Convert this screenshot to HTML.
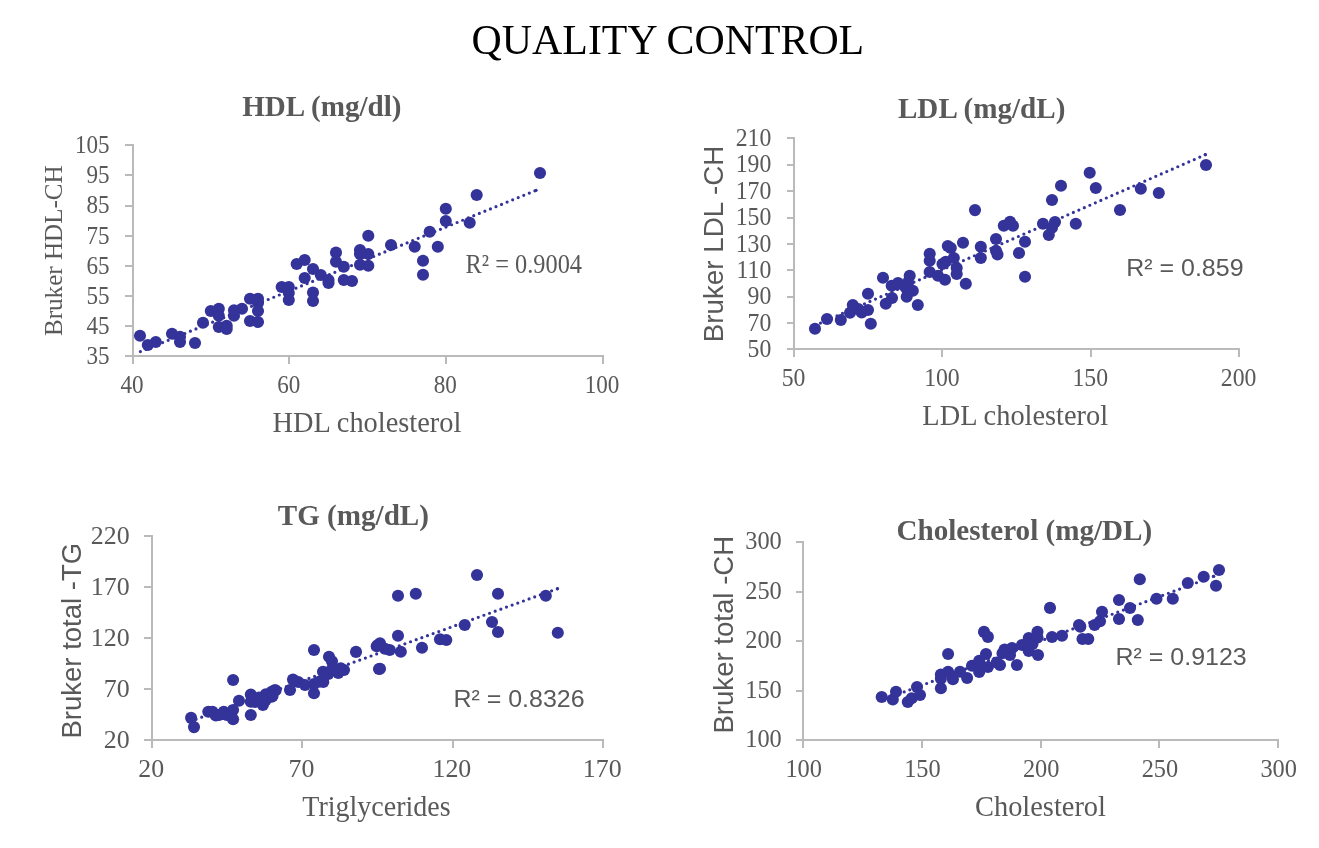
<!DOCTYPE html>
<html><head><meta charset="utf-8"><title>Quality Control</title>
<style>
html,body{margin:0;padding:0;background:#fff;}
body{width:1319px;height:848px;overflow:hidden;}
svg{display:block;will-change:transform}
text{fill:#595959}
.se{font-family:"Liberation Serif",serif;}
.sa{font-family:"Liberation Sans",sans-serif;}
</style></head><body>
<svg width="1319" height="848" viewBox="0 0 1319 848">
<rect width="1319" height="848" fill="#fff"/>
<text class="se" transform="translate(667.9 54) scale(0.9853 1)" font-size="42.5" text-anchor="middle" style="fill:#000">QUALITY CONTROL</text>
<path d="M133 144V357M132 356H604M125 145H133M125 175H133M125 206H133M125 236H133M125 266H133M125 296H133M125 326H133M125 356H133M133 356V364M289 356V364M446 356V364M603 356V364" fill="none" stroke="#bababa" stroke-width="2"/>
<path d="M140.4 351.6L536.1 190.3" stroke="#333399" stroke-width="3.2" stroke-linecap="round" stroke-dasharray="0 6" fill="none"/>
<circle cx="536.1" cy="190.3" r="1.6" fill="#333399"/>
<g fill="#333399"><circle cx="140" cy="335.8" r="6.05"/><circle cx="147.8" cy="345" r="6.05"/><circle cx="155.8" cy="342" r="6.05"/><circle cx="172" cy="333.7" r="6.05"/><circle cx="180" cy="336.7" r="6.05"/><circle cx="180" cy="342" r="6.05"/><circle cx="195" cy="343" r="6.05"/><circle cx="203" cy="322.7" r="6.05"/><circle cx="210.8" cy="311" r="6.05"/><circle cx="218.8" cy="308.7" r="6.05"/><circle cx="218.8" cy="315.8" r="6.05"/><circle cx="218.8" cy="327" r="6.05"/><circle cx="226.7" cy="325.8" r="6.05"/><circle cx="226.7" cy="329" r="6.05"/><circle cx="234" cy="310.3" r="6.05"/><circle cx="234" cy="315.8" r="6.05"/><circle cx="242" cy="308.7" r="6.05"/><circle cx="250" cy="298.8" r="6.05"/><circle cx="250" cy="321" r="6.05"/><circle cx="258" cy="298.8" r="6.05"/><circle cx="258" cy="303" r="6.05"/><circle cx="258" cy="311" r="6.05"/><circle cx="258" cy="322" r="6.05"/><circle cx="281.7" cy="287" r="6.05"/><circle cx="288.8" cy="287" r="6.05"/><circle cx="288.8" cy="293" r="6.05"/><circle cx="288.8" cy="300" r="6.05"/><circle cx="296.7" cy="264" r="6.05"/><circle cx="304.7" cy="260" r="6.05"/><circle cx="304.7" cy="278" r="6.05"/><circle cx="313" cy="269" r="6.05"/><circle cx="313" cy="292.5" r="6.05"/><circle cx="313" cy="301" r="6.05"/><circle cx="320.8" cy="275" r="6.05"/><circle cx="328.5" cy="280" r="6.05"/><circle cx="328.5" cy="283" r="6.05"/><circle cx="336" cy="252.5" r="6.05"/><circle cx="336" cy="261.7" r="6.05"/><circle cx="343.8" cy="266.7" r="6.05"/><circle cx="343.8" cy="280" r="6.05"/><circle cx="352" cy="281" r="6.05"/><circle cx="360" cy="250" r="6.05"/><circle cx="360" cy="254" r="6.05"/><circle cx="360" cy="264.7" r="6.05"/><circle cx="368.3" cy="235.8" r="6.05"/><circle cx="368.3" cy="254" r="6.05"/><circle cx="368.3" cy="265.8" r="6.05"/><circle cx="391" cy="245" r="6.05"/><circle cx="414.7" cy="246.7" r="6.05"/><circle cx="423" cy="260.8" r="6.05"/><circle cx="423" cy="274.7" r="6.05"/><circle cx="429.7" cy="231.7" r="6.05"/><circle cx="437.8" cy="246.7" r="6.05"/><circle cx="445.8" cy="208.8" r="6.05"/><circle cx="445.8" cy="221" r="6.05"/><circle cx="469.7" cy="222.8" r="6.05"/><circle cx="476.7" cy="195" r="6.05"/><circle cx="540.0" cy="173.0" r="6.05"/></g>
<text class="se" transform="translate(321.85 116) scale(1.022 1)" font-size="28.5" text-anchor="middle" font-weight="bold">HDL (mg/dl)</text>
<text class="se" transform="translate(109.6 153.1) scale(0.91 1)" font-size="25.4" text-anchor="end">105</text>
<text class="se" transform="translate(109.6 183.24285714285713) scale(0.91 1)" font-size="25.4" text-anchor="end">95</text>
<text class="se" transform="translate(109.6 213.38571428571427) scale(0.91 1)" font-size="25.4" text-anchor="end">85</text>
<text class="se" transform="translate(109.6 243.52857142857144) scale(0.91 1)" font-size="25.4" text-anchor="end">75</text>
<text class="se" transform="translate(109.6 273.6714285714286) scale(0.91 1)" font-size="25.4" text-anchor="end">65</text>
<text class="se" transform="translate(109.6 303.81428571428575) scale(0.91 1)" font-size="25.4" text-anchor="end">55</text>
<text class="se" transform="translate(109.6 333.9571428571429) scale(0.91 1)" font-size="25.4" text-anchor="end">45</text>
<text class="se" transform="translate(109.6 364.1) scale(0.91 1)" font-size="25.4" text-anchor="end">35</text>
<text class="se" transform="translate(132.0 393.2) scale(0.91 1)" font-size="25.4" text-anchor="middle">40</text>
<text class="se" transform="translate(288.66666666666663 393.2) scale(0.91 1)" font-size="25.4" text-anchor="middle">60</text>
<text class="se" transform="translate(445.3333333333333 393.2) scale(0.91 1)" font-size="25.4" text-anchor="middle">80</text>
<text class="se" transform="translate(602.0 393.2) scale(0.91 1)" font-size="25.4" text-anchor="middle">100</text>
<text class="se" transform="translate(366.9 431.7)" font-size="28.4" text-anchor="middle">HDL cholesterol</text>
<text class="se" transform="translate(62 250.65) rotate(-90)" font-size="25.1" text-anchor="middle">Bruker HDL-CH</text>
<text class="se" transform="translate(465.6 273.2) scale(0.923 1)" font-size="26.4" text-anchor="start">R² = 0.9004</text>
<path d="M794 137V350M793 349H1240M787 138H794M787 165H794M787 191H794M787 218H794M787 244H794M787 270H794M787 297H794M787 323H794M787 349H794M794 349V357M942 349V357M1091 349V357M1239 349V357" fill="none" stroke="#bababa" stroke-width="2"/>
<path d="M815 325.5L1205.3 154.7" stroke="#333399" stroke-width="3.2" stroke-linecap="round" stroke-dasharray="0 6" fill="none"/>
<circle cx="1205.3" cy="154.7" r="1.6" fill="#333399"/>
<g fill="#333399"><circle cx="815" cy="328.8" r="6.05"/><circle cx="827" cy="319" r="6.05"/><circle cx="840.8" cy="320" r="6.05"/><circle cx="850" cy="312.8" r="6.05"/><circle cx="852.8" cy="305" r="6.05"/><circle cx="858.3" cy="309" r="6.05"/><circle cx="861.7" cy="312.5" r="6.05"/><circle cx="868" cy="310" r="6.05"/><circle cx="870.8" cy="323.8" r="6.05"/><circle cx="868" cy="293.7" r="6.05"/><circle cx="883" cy="277.8" r="6.05"/><circle cx="885.8" cy="303.8" r="6.05"/><circle cx="892" cy="298" r="6.05"/><circle cx="891.7" cy="285.8" r="6.05"/><circle cx="898" cy="283" r="6.05"/><circle cx="904" cy="285.8" r="6.05"/><circle cx="906.7" cy="289" r="6.05"/><circle cx="906.7" cy="296.7" r="6.05"/><circle cx="912.8" cy="290.8" r="6.05"/><circle cx="909.7" cy="275.8" r="6.05"/><circle cx="908" cy="282.5" r="6.05"/><circle cx="917.8" cy="305" r="6.05"/><circle cx="929.7" cy="253.8" r="6.05"/><circle cx="929.7" cy="260.8" r="6.05"/><circle cx="929.7" cy="272" r="6.05"/><circle cx="938" cy="275.8" r="6.05"/><circle cx="945" cy="279.7" r="6.05"/><circle cx="942.5" cy="264" r="6.05"/><circle cx="945.8" cy="261.7" r="6.05"/><circle cx="947.8" cy="246" r="6.05"/><circle cx="950.8" cy="248" r="6.05"/><circle cx="953.8" cy="258" r="6.05"/><circle cx="956.7" cy="268" r="6.05"/><circle cx="956.7" cy="274" r="6.05"/><circle cx="963" cy="242.8" r="6.05"/><circle cx="965.8" cy="283.8" r="6.05"/><circle cx="980.8" cy="246.7" r="6.05"/><circle cx="980.8" cy="258" r="6.05"/><circle cx="996" cy="239" r="6.05"/><circle cx="996" cy="250.8" r="6.05"/><circle cx="997.5" cy="254.5" r="6.05"/><circle cx="975" cy="210.1" r="6.05"/><circle cx="1003.8" cy="225.8" r="6.05"/><circle cx="1010" cy="221.7" r="6.05"/><circle cx="1013" cy="225.8" r="6.05"/><circle cx="1025" cy="241.7" r="6.05"/><circle cx="1019" cy="253" r="6.05"/><circle cx="1025" cy="276.7" r="6.05"/><circle cx="1043" cy="223.8" r="6.05"/><circle cx="1055" cy="222" r="6.05"/><circle cx="1052" cy="227.8" r="6.05"/><circle cx="1048.8" cy="235" r="6.05"/><circle cx="1052" cy="200" r="6.05"/><circle cx="1061" cy="185.8" r="6.05"/><circle cx="1075.8" cy="223.8" r="6.05"/><circle cx="1089.7" cy="172.8" r="6.05"/><circle cx="1095.8" cy="188" r="6.05"/><circle cx="1120" cy="210" r="6.05"/><circle cx="1140.8" cy="188.8" r="6.05"/><circle cx="1158.8" cy="193" r="6.05"/><circle cx="1206" cy="165" r="6.05"/></g>
<text class="se" transform="translate(981.65 117.5) scale(1.022 1)" font-size="28.5" text-anchor="middle" font-weight="bold">LDL (mg/dL)</text>
<text class="se" transform="translate(771.3 146.1) scale(0.935 1)" font-size="25.4" text-anchor="end">210</text>
<text class="se" transform="translate(771.3 172.475) scale(0.935 1)" font-size="25.4" text-anchor="end">190</text>
<text class="se" transform="translate(771.3 198.85) scale(0.935 1)" font-size="25.4" text-anchor="end">170</text>
<text class="se" transform="translate(771.3 225.225) scale(0.935 1)" font-size="25.4" text-anchor="end">150</text>
<text class="se" transform="translate(771.3 251.6) scale(0.935 1)" font-size="25.4" text-anchor="end">130</text>
<text class="se" transform="translate(771.3 277.975) scale(0.935 1)" font-size="25.4" text-anchor="end">110</text>
<text class="se" transform="translate(771.3 304.35) scale(0.935 1)" font-size="25.4" text-anchor="end">90</text>
<text class="se" transform="translate(771.3 330.725) scale(0.935 1)" font-size="25.4" text-anchor="end">70</text>
<text class="se" transform="translate(771.3 357.1) scale(0.935 1)" font-size="25.4" text-anchor="end">50</text>
<text class="se" transform="translate(793.6 386.0) scale(0.935 1)" font-size="25.4" text-anchor="middle">50</text>
<text class="se" transform="translate(941.9333333333334 386.0) scale(0.935 1)" font-size="25.4" text-anchor="middle">100</text>
<text class="se" transform="translate(1090.2666666666667 386.0) scale(0.935 1)" font-size="25.4" text-anchor="middle">150</text>
<text class="se" transform="translate(1238.6 386.0) scale(0.935 1)" font-size="25.4" text-anchor="middle">200</text>
<text class="se" transform="translate(1015.25 425)" font-size="28.4" text-anchor="middle">LDL cholesterol</text>
<text class="sa" transform="translate(722.5 244.0) rotate(-90)" font-size="27.8" text-anchor="middle">Bruker LDL -CH</text>
<text class="sa" transform="translate(1126.2 275.9) scale(1.02 1)" font-size="24.5" text-anchor="start">R² = 0.859</text>
<path d="M152 535V741M151 740H604M144 536H152M144 587H152M144 638H152M144 689H152M144 740H152M152 740V748M302 740V748M453 740V748M603 740V748" fill="none" stroke="#bababa" stroke-width="2"/>
<path d="M190.44 721.2L557.5 588.7" stroke="#333399" stroke-width="3.2" stroke-linecap="round" stroke-dasharray="0 6" fill="none"/>
<circle cx="557.5" cy="588.7" r="1.6" fill="#333399"/>
<g fill="#333399"><circle cx="191.1" cy="717.9" r="6.05"/><circle cx="194" cy="727.1" r="6.05"/><circle cx="233.1" cy="680" r="6.05"/><circle cx="208.3" cy="711.7" r="6.05"/><circle cx="212.5" cy="711.7" r="6.05"/><circle cx="215.8" cy="715.4" r="6.05"/><circle cx="219" cy="715" r="6.05"/><circle cx="223.75" cy="711.7" r="6.05"/><circle cx="226.7" cy="715" r="6.05"/><circle cx="233.1" cy="710" r="6.05"/><circle cx="233.1" cy="719.2" r="6.05"/><circle cx="239" cy="700.8" r="6.05"/><circle cx="250.8" cy="715" r="6.05"/><circle cx="250.8" cy="694.6" r="6.05"/><circle cx="250.8" cy="701.7" r="6.05"/><circle cx="255" cy="702" r="6.05"/><circle cx="259" cy="697.5" r="6.05"/><circle cx="262.9" cy="705" r="6.05"/><circle cx="265.8" cy="694.2" r="6.05"/><circle cx="265.8" cy="700" r="6.05"/><circle cx="271.7" cy="696.7" r="6.05"/><circle cx="271.7" cy="691.7" r="6.05"/><circle cx="274.5" cy="690.4" r="6.05"/><circle cx="275.6" cy="690.2" r="6.05"/><circle cx="272.5" cy="696" r="6.05"/><circle cx="290" cy="690" r="6.05"/><circle cx="293" cy="679.6" r="6.05"/><circle cx="298.3" cy="682" r="6.05"/><circle cx="305" cy="685" r="6.05"/><circle cx="314" cy="693.3" r="6.05"/><circle cx="314" cy="684" r="6.05"/><circle cx="319" cy="681.7" r="6.05"/><circle cx="323.3" cy="682" r="6.05"/><circle cx="323" cy="671.7" r="6.05"/><circle cx="328.3" cy="674" r="6.05"/><circle cx="332" cy="669" r="6.05"/><circle cx="338.3" cy="673" r="6.05"/><circle cx="344" cy="670" r="6.05"/><circle cx="340.8" cy="668.3" r="6.05"/><circle cx="314" cy="650" r="6.05"/><circle cx="329" cy="656.8" r="6.05"/><circle cx="332" cy="661.3" r="6.05"/><circle cx="356" cy="651.9" r="6.05"/><circle cx="377.5" cy="645.4" r="6.05"/><circle cx="379" cy="669" r="6.05"/><circle cx="477" cy="575" r="6.05"/><circle cx="398" cy="595.8" r="6.05"/><circle cx="415.8" cy="593.8" r="6.05"/><circle cx="498" cy="593.8" r="6.05"/><circle cx="545.8" cy="595.8" r="6.05"/><circle cx="557.8" cy="632.8" r="6.05"/><circle cx="492" cy="622" r="6.05"/><circle cx="498" cy="632" r="6.05"/><circle cx="464.7" cy="625" r="6.05"/><circle cx="440" cy="639.2" r="6.05"/><circle cx="446.3" cy="640" r="6.05"/><circle cx="422" cy="647.8" r="6.05"/><circle cx="398" cy="635.8" r="6.05"/><circle cx="400.8" cy="651.7" r="6.05"/><circle cx="380" cy="643.3" r="6.05"/><circle cx="376.7" cy="646.2" r="6.05"/><circle cx="385" cy="648.7" r="6.05"/><circle cx="389.7" cy="650" r="6.05"/><circle cx="380" cy="668.7" r="6.05"/></g>
<text class="se" transform="translate(353.35 525) scale(1.022 1)" font-size="28.5" text-anchor="middle" font-weight="bold">TG (mg/dL)</text>
<text class="se" transform="translate(129.7 544.1) scale(1.02 1)" font-size="25.4" text-anchor="end">220</text>
<text class="se" transform="translate(129.7 595.1) scale(1.02 1)" font-size="25.4" text-anchor="end">170</text>
<text class="se" transform="translate(129.7 646.1) scale(1.02 1)" font-size="25.4" text-anchor="end">120</text>
<text class="se" transform="translate(129.7 697.1) scale(1.02 1)" font-size="25.4" text-anchor="end">70</text>
<text class="se" transform="translate(129.7 748.1) scale(1.02 1)" font-size="25.4" text-anchor="end">20</text>
<text class="se" transform="translate(151.2 777.0) scale(1.02 1)" font-size="25.4" text-anchor="middle">20</text>
<text class="se" transform="translate(301.53333333333336 777.0) scale(1.02 1)" font-size="25.4" text-anchor="middle">70</text>
<text class="se" transform="translate(451.8666666666667 777.0) scale(1.02 1)" font-size="25.4" text-anchor="middle">120</text>
<text class="se" transform="translate(602.2 777.0) scale(1.02 1)" font-size="25.4" text-anchor="middle">170</text>
<text class="se" transform="translate(376.5 815.8) scale(0.987 1)" font-size="28.4" text-anchor="middle">Triglycerides</text>
<text class="sa" transform="translate(80.7 640.7) rotate(-90)" font-size="27.5" text-anchor="middle">Bruker total -TG</text>
<text class="sa" transform="translate(453.4 706.85) scale(1.02 1)" font-size="24.5" text-anchor="start">R² = 0.8326</text>
<path d="M803 541V741M802 740H1279M796 542H803M796 592H803M796 641H803M796 691H803M796 740H803M803 740V748M922 740V748M1041 740V748M1159 740V748M1278 740V748" fill="none" stroke="#bababa" stroke-width="2"/>
<path d="M881.7 700.3L1213.7 576.3" stroke="#333399" stroke-width="3.2" stroke-linecap="round" stroke-dasharray="0 6" fill="none"/>
<circle cx="1213.7" cy="576.3" r="1.6" fill="#333399"/>
<g fill="#333399"><circle cx="881.7" cy="697" r="6.05"/><circle cx="892.8" cy="699.5" r="6.05"/><circle cx="896" cy="691.7" r="6.05"/><circle cx="907.8" cy="702" r="6.05"/><circle cx="911.7" cy="698.3" r="6.05"/><circle cx="917" cy="687" r="6.05"/><circle cx="920" cy="695" r="6.05"/><circle cx="940.9" cy="674.6" r="6.05"/><circle cx="940.9" cy="678.6" r="6.05"/><circle cx="940.9" cy="688.3" r="6.05"/><circle cx="948.1" cy="654" r="6.05"/><circle cx="948.1" cy="671.7" r="6.05"/><circle cx="952.9" cy="679.2" r="6.05"/><circle cx="960" cy="671.7" r="6.05"/><circle cx="967.1" cy="678" r="6.05"/><circle cx="972" cy="665.8" r="6.05"/><circle cx="979.2" cy="660.8" r="6.05"/><circle cx="979.2" cy="672" r="6.05"/><circle cx="980.8" cy="666.7" r="6.05"/><circle cx="984" cy="631.9" r="6.05"/><circle cx="987.9" cy="636.9" r="6.05"/><circle cx="986" cy="654" r="6.05"/><circle cx="987.9" cy="667" r="6.05"/><circle cx="996.7" cy="662.5" r="6.05"/><circle cx="1000" cy="665" r="6.05"/><circle cx="1002.5" cy="653.3" r="6.05"/><circle cx="1004.6" cy="649.6" r="6.05"/><circle cx="1010" cy="655" r="6.05"/><circle cx="1012" cy="648" r="6.05"/><circle cx="1016.9" cy="665" r="6.05"/><circle cx="1022" cy="645" r="6.05"/><circle cx="1028.75" cy="638" r="6.05"/><circle cx="1028.75" cy="651" r="6.05"/><circle cx="1032.5" cy="644" r="6.05"/><circle cx="1037.5" cy="631.7" r="6.05"/><circle cx="1037.5" cy="637.5" r="6.05"/><circle cx="1038" cy="655" r="6.05"/><circle cx="1050" cy="607.9" r="6.05"/><circle cx="1052" cy="637" r="6.05"/><circle cx="1062" cy="635.8" r="6.05"/><circle cx="1079" cy="625" r="6.05"/><circle cx="1080.3" cy="626.6" r="6.05"/><circle cx="1082.5" cy="639" r="6.05"/><circle cx="1088.3" cy="639" r="6.05"/><circle cx="1094.6" cy="625" r="6.05"/><circle cx="1100" cy="621.25" r="6.05"/><circle cx="1102" cy="611.8" r="6.05"/><circle cx="1119" cy="600" r="6.05"/><circle cx="1119" cy="619" r="6.05"/><circle cx="1130" cy="608" r="6.05"/><circle cx="1139.8" cy="579.2" r="6.05"/><circle cx="1137.8" cy="620" r="6.05"/><circle cx="1156.5" cy="598.8" r="6.05"/><circle cx="1172.8" cy="598.8" r="6.05"/><circle cx="1187.8" cy="583" r="6.05"/><circle cx="1203.7" cy="576.7" r="6.05"/><circle cx="1216" cy="585.8" r="6.05"/><circle cx="1219" cy="570" r="6.05"/></g>
<text class="se" transform="translate(1024.35 539.7) scale(1.022 1)" font-size="28.5" text-anchor="middle" font-weight="bold">Cholesterol (mg/DL)</text>
<text class="se" transform="translate(781.8 549.2) scale(0.96 1)" font-size="25.4" text-anchor="end">300</text>
<text class="se" transform="translate(781.8 598.7) scale(0.96 1)" font-size="25.4" text-anchor="end">250</text>
<text class="se" transform="translate(781.8 648.2) scale(0.96 1)" font-size="25.4" text-anchor="end">200</text>
<text class="se" transform="translate(781.8 697.7) scale(0.96 1)" font-size="25.4" text-anchor="end">150</text>
<text class="se" transform="translate(781.8 747.2) scale(0.96 1)" font-size="25.4" text-anchor="end">100</text>
<text class="se" transform="translate(803.7 777.0) scale(0.96 1)" font-size="25.4" text-anchor="middle">100</text>
<text class="se" transform="translate(922.45 777.0) scale(0.96 1)" font-size="25.4" text-anchor="middle">150</text>
<text class="se" transform="translate(1041.2 777.0) scale(0.96 1)" font-size="25.4" text-anchor="middle">200</text>
<text class="se" transform="translate(1159.95 777.0) scale(0.96 1)" font-size="25.4" text-anchor="middle">250</text>
<text class="se" transform="translate(1278.7 777.0) scale(0.96 1)" font-size="25.4" text-anchor="middle">300</text>
<text class="se" transform="translate(1040.5 815.8)" font-size="28.4" text-anchor="middle">Cholesterol</text>
<text class="sa" transform="translate(732.6 634.7) rotate(-90)" font-size="27.6" text-anchor="middle">Bruker total -CH</text>
<text class="sa" transform="translate(1115.5 664.8) scale(1.02 1)" font-size="24.5" text-anchor="start">R² = 0.9123</text>
</svg></body></html>
